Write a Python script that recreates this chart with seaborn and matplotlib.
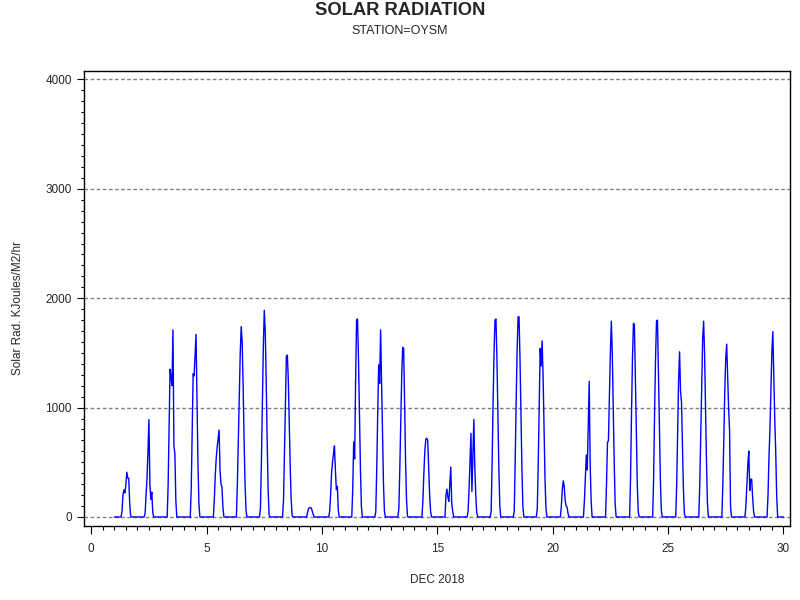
import numpy as np
import pandas as pd
import matplotlib
matplotlib.use("Agg")
import matplotlib.pyplot as plt
import seaborn as sns
from matplotlib.ticker import MultipleLocator

# hourly solar radiation, Dec 2018, station OYSM
# only the daylight hours 07..18 are listed, every other hour reads 0
days = list(range(1, 30))
sun_hours = list(range(7, 19))
rad_by_day = [
    [0, 50, 200, 248, 220, 294, 409, 355, 355, 127, 10, 0],        # 1
    [0, 30, 200, 350, 600, 890, 300, 160, 227, 40, 0, 0],          # 2
    [0, 300, 850, 1350, 1280, 1200, 1710, 650, 580, 150, 0, 0],    # 3
    [0, 250, 800, 1310, 1290, 1480, 1670, 1050, 500, 120, 0, 0],   # 4
    [0, 150, 380, 536, 640, 720, 794, 420, 300, 273, 80, 0],       # 5
    [0, 300, 685, 1100, 1500, 1740, 1600, 1200, 700, 300, 60, 0],  # 6
    [0, 80, 500, 1050, 1550, 1890, 1700, 1250, 700, 250, 20, 0],   # 7
    [0, 150, 600, 1100, 1470, 1480, 1250, 850, 450, 150, 10, 0],   # 8
    [0, 0, 40, 75, 85, 85, 80, 50, 20, 0, 0, 0],                   # 9
    [0, 50, 200, 400, 500, 580, 650, 420, 250, 280, 60, 0],        # 10
    [0, 250, 685, 530, 1250, 1800, 1810, 1450, 950, 450, 100, 0],  # 11
    [0, 50, 450, 950, 1390, 1220, 1710, 1250, 750, 300, 50, 0],    # 12
    [0, 80, 450, 900, 1300, 1550, 1540, 1000, 500, 150, 0, 0],     # 13
    [0, 0, 150, 400, 600, 710, 720, 700, 450, 200, 50, 0],         # 14
    [0, 0, 200, 255, 180, 142, 300, 455, 127, 50, 0, 0],           # 15
    [0, 50, 250, 500, 764, 233, 550, 891, 450, 200, 40, 0],        # 16
    [0, 50, 500, 1050, 1500, 1800, 1810, 1450, 950, 450, 100, 0],  # 17
    [0, 50, 500, 1050, 1520, 1830, 1830, 1450, 950, 450, 100, 0],  # 18
    [0, 80, 500, 1050, 1540, 1380, 1610, 1300, 800, 350, 80, 0],   # 19
    [0, 0, 100, 250, 330, 280, 150, 100, 90, 30, 0, 0],            # 20
    [0, 0, 150, 350, 567, 430, 850, 1240, 480, 150, 0, 0],         # 21
    [0, 300, 679, 700, 1100, 1500, 1790, 1500, 1000, 500, 120, 0], # 22
    [0, 0, 350, 950, 1450, 1770, 1760, 1300, 800, 300, 50, 0],     # 23
    [0, 0, 350, 950, 1450, 1790, 1800, 1350, 850, 350, 60, 0],     # 24
    [0, 0, 300, 800, 1250, 1510, 1150, 1050, 650, 250, 30, 0],     # 25
    [0, 0, 300, 750, 1250, 1620, 1790, 1500, 1000, 500, 120, 0],   # 26
    [0, 0, 300, 700, 1150, 1450, 1580, 1300, 1000, 790, 100, 0],   # 27
    [0, 0, 100, 300, 480, 603, 242, 345, 345, 180, 50, 0],         # 28
    [0, 200, 550, 800, 1150, 1500, 1694, 1300, 900, 600, 200, 0],  # 29
]

rows = []
for d, vals in zip(days, rad_by_day):
    for h in range(24):
        v = vals[h - sun_hours[0]] if h in sun_hours else 0
        rows.append((d + h / 24, v))
rows.append((days[-1] + 1, 0))
df = pd.DataFrame(rows, columns=["day", "rad"])

sns.set_style("white")
plt.rcParams['font.family'] = ['Liberation Sans', 'DejaVu Sans']

fig = plt.figure(figsize=(8, 6), dpi=100)
ax = fig.add_axes([0.1054, 0.1238, 0.8825, 0.7584])

sns.lineplot(data=df, x="day", y="rad", color="#0000ff", lw=1.0,
             estimator=None, ax=ax)

ax.set_xlim(-0.3, 30.3)
ax.set_ylim(-80, 4080)
ax.xaxis.set_major_locator(MultipleLocator(5))
ax.xaxis.set_minor_locator(MultipleLocator(0.5))
ax.yaxis.set_major_locator(MultipleLocator(1000))
ax.yaxis.set_minor_locator(MultipleLocator(100))

ax.yaxis.grid(True, which="major", color="#808080", lw=1.0,
              linestyle=(0, (2.6, 1.8)))
ax.xaxis.grid(False)
ax.set_axisbelow(True)

for s in ax.spines.values():
    s.set_color("black")
    s.set_linewidth(1.0)

ax.tick_params(axis="y", which="major", direction="out", length=5, width=0.8,
               color="black", labelsize=8.5, pad=4, left=True)
ax.tick_params(axis="y", which="minor", direction="out", length=2.4, width=0.8,
               color="black", left=True)
ax.tick_params(axis="x", which="major", direction="out", length=5.8, width=0.8,
               color="black", labelsize=8.5, pad=7, bottom=True)
ax.tick_params(axis="x", which="minor", direction="out", length=2.9, width=0.8,
               color="black", bottom=True)

ax.set_xlabel("")
ax.set_ylabel("")
fig.text(437 / 800, 1 - 580 / 600, "DEC 2018", ha="center", va="center", fontsize=8.5)
fig.text(18 / 800, 1 - 308 / 600, "Solar Rad. KJoules/M2/hr", ha="center", va="center",
         rotation=90, fontsize=8.5)

fig.text(0.5, 1 - 10.7 / 600, "SOLAR RADIATION", ha="center", va="center",
         fontsize=13.2, fontweight="bold")
fig.text(0.5, 1 - 31 / 600, "STATION=OYSM", ha="center", va="center", fontsize=9)

fig.savefig("out.png", dpi=100)
